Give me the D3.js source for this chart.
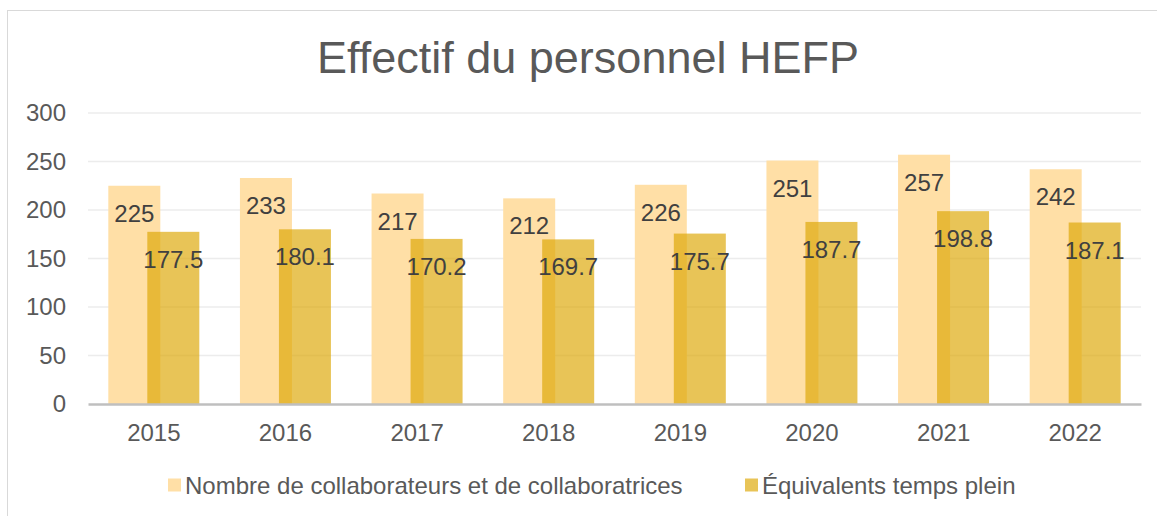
<!DOCTYPE html>
<html lang="fr">
<head>
<meta charset="UTF-8">
<script src="https://d3js.org/d3.v7.min.js"></script>
<style>
  body { margin: 0; background: #fff; }
  svg text { font-family: "Liberation Sans", Arial, sans-serif; }
</style>
</head>
<body>
<div id="chart"></div>
<script>
const years = ["2015", "2016", "2017", "2018", "2019", "2020", "2021", "2022"];
const collaborateurs = [225, 233, 217, 212, 226, 251, 257, 242];
const etp = [177.5, 180.1, 170.2, 169.7, 175.7, 187.7, 198.8, 187.1];
const yTicks = [0, 50, 100, 150, 200, 250, 300];
const seriesNames = ["Nombre de collaborateurs et de collaboratrices", "Équivalents temps plein"];

const width = 1157, height = 516;
const margin = { left: 88, right: 16, top: 113, bottom: 112 };

const svg = d3.select("#chart").append("svg")
  .attr("width", width)
  .attr("height", height);

// chart frame
svg.append("rect")
  .attr("x", 7.5).attr("y", 10.5)
  .attr("width", width + 10).attr("height", height + 10)
  .attr("fill", "#fff").attr("stroke", "#d9d9d9");

const x = d3.scaleBand()
  .domain(years)
  .range([margin.left, width - margin.right]);

const y = d3.scaleLinear()
  .domain([0, 300])
  .range([height - margin.bottom, margin.top]);

// title
svg.append("text")
  .attr("x", 588).attr("y", 73)
  .attr("text-anchor", "middle")
  .attr("fill", "#595959")
  .attr("font-size", 45)
  .text("Effectif du personnel HEFP");

// gridlines
svg.append("g")
  .selectAll("line")
  .data(yTicks.filter(d => d > 0))
  .join("line")
  .attr("x1", margin.left).attr("x2", width - margin.right)
  .attr("y1", d => y(d)).attr("y2", d => y(d))
  .attr("stroke", "#ececec").attr("stroke-width", 1.5);

// y axis labels
const yAxis = svg.append("g")
  .attr("transform", `translate(${margin.left},0)`)
  .call(d3.axisLeft(y).tickValues(yTicks).tickSize(0).tickPadding(22));
yAxis.select(".domain").remove();
yAxis.selectAll("text")
  .attr("font-size", 24).attr("fill", "#595959")
  .style("font-family", "'Liberation Sans', Arial, sans-serif");

const barW = 52;
const offset = 19.5;

const bars1 = svg.append("g");
bars1.selectAll("rect")
  .data(collaborateurs)
  .join("rect")
  .attr("x", (d, i) => x(years[i]) + x.bandwidth() / 2 - offset - barW / 2)
  .attr("y", d => y(d))
  .attr("width", barW)
  .attr("height", d => y(0) - y(d))
  .attr("fill", "#ffdfa6");

const bars2 = svg.append("g");
bars2.selectAll("rect")
  .data(etp)
  .join("rect")
  .attr("x", (d, i) => x(years[i]) + x.bandwidth() / 2 + offset - barW / 2)
  .attr("y", d => y(d))
  .attr("width", barW)
  .attr("height", d => y(0) - y(d))
  .attr("fill", "rgb(220,166,0)")
  .attr("fill-opacity", 0.66);

// data labels
svg.append("g")
  .selectAll("text")
  .data(collaborateurs)
  .join("text")
  .attr("x", (d, i) => x(years[i]) + x.bandwidth() / 2 - offset)
  .attr("y", d => y(d) + 36)
  .attr("text-anchor", "middle")
  .attr("font-size", 24)
  .attr("fill", "#404040")
  .text(d => d);

svg.append("g")
  .selectAll("text")
  .data(etp)
  .join("text")
  .attr("x", (d, i) => x(years[i]) + x.bandwidth() / 2 + offset)
  .attr("y", d => y(d) + 36)
  .attr("text-anchor", "middle")
  .attr("font-size", 24)
  .attr("fill", "#404040")
  .text(d => d.toFixed(1));

// x axis
const xAxis = svg.append("g")
  .attr("transform", `translate(0,${y(0)})`)
  .call(d3.axisBottom(x).tickSize(0).tickPadding(20));
xAxis.select(".domain").attr("stroke", "#bfbfbf").attr("stroke-width", 2.5);
xAxis.selectAll("text")
  .attr("font-size", 24).attr("fill", "#595959")
  .style("font-family", "'Liberation Sans', Arial, sans-serif");

// legend
const legendColors = ["#ffdfa6", "rgba(220,166,0,0.66)"];
const legendX = [168, 745];
const legend = svg.append("g")
  .selectAll("g")
  .data(seriesNames)
  .join("g")
  .attr("transform", (d, i) => `translate(${legendX[i]},485)`);
legend.append("rect")
  .attr("x", 0).attr("y", -6.5)
  .attr("width", 13).attr("height", 13)
  .attr("fill", (d, i) => legendColors[i]);
legend.append("text")
  .attr("x", 17).attr("y", 9)
  .attr("font-size", 24).attr("fill", "#595959")
  .text(d => d);
</script>
</body>
</html>
